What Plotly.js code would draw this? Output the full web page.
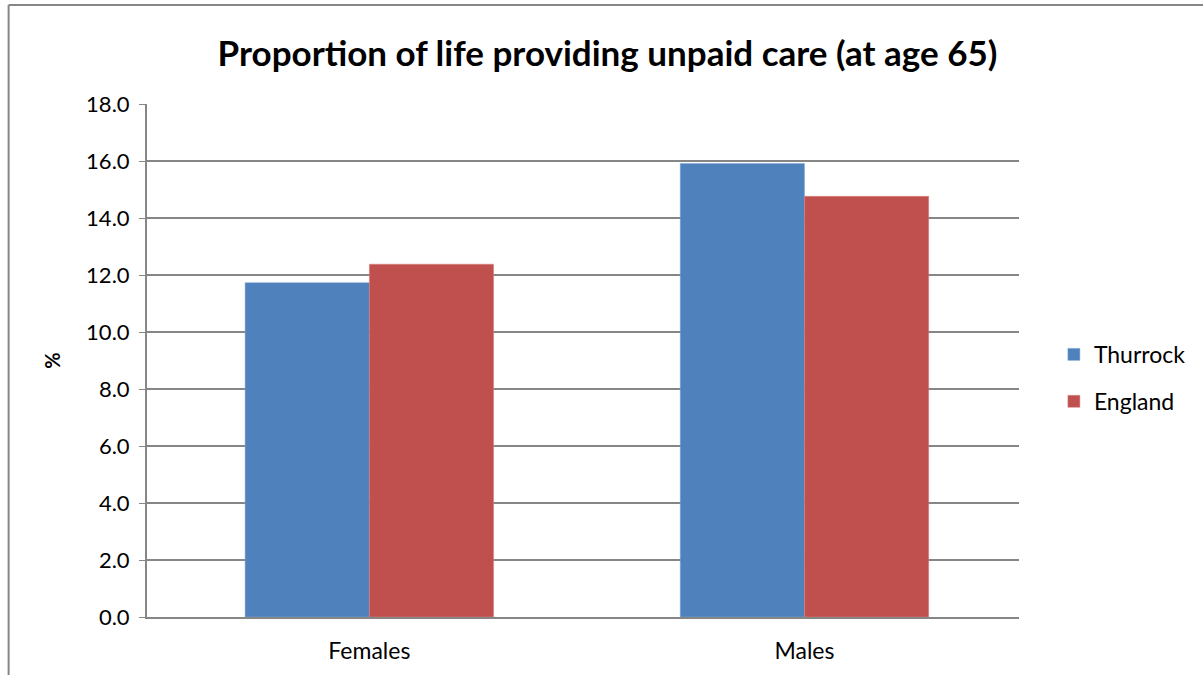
<!DOCTYPE html>
<html>
<head>
<meta charset="utf-8">
<script src="https://cdn.plot.ly/plotly-3.0.1.min.js"></script>
<style>html,body{margin:0;padding:0;background:#fff;}#chart{width:1203px;height:675px;}</style>
</head>
<body>
<div id="chart"></div>
<script>
const categories = ["Females", "Males"];
const seriesNames = ["Thurrock", "England"];
const thurrock = [11.73, 15.91];
const england = [12.38, 14.76];
const yTickVals = [0, 2, 4, 6, 8, 10, 12, 14, 16, 18];
const yTickText = ["0.0", "2.0", "4.0", "6.0", "8.0", "10.0", "12.0", "14.0", "16.0", "18.0"];
const chartTitle = "Proportion of life providing unpaid care (at age 65)";
const yTitle = "%";

const font = "Lato, 'Open Sans', sans-serif";
const traces = [
  {type: "bar", name: seriesNames[0], x: categories, y: thurrock, legendgroup: "g1",
   marker: {color: "#4F81BD", line: {color: "#7FA6D6", width: 0.5}}},
  {type: "bar", name: seriesNames[1], x: categories, y: england, legendgroup: "g2",
   marker: {color: "#C0504D", line: {color: "#D48582", width: 0.5}}}
];
const layout = {
  width: 1203, height: 675,
  margin: {l: 147, r: 180, t: 104, b: 58},
  paper_bgcolor: "#fff", plot_bgcolor: "#fff",
  barmode: "group", bargap: 0.429, bargroupgap: 0,
  font: {family: font, color: "#000", size: 22},
  title: {text: "<b>" + chartTitle + "</b>", x: 0.505, xanchor: "center", y: 0.921, yanchor: "middle",
          font: {family: font, size: 35, color: "#000"}},
  xaxis: {range: [-0.511, 1.493], showline: true, linecolor: "#868686", linewidth: 2, ticks: "", showgrid: false,
          tickfont: {size: 23, family: font}, ticklabelstandoff: 12, fixedrange: true},
  yaxis: {range: [0, 18], tickvals: yTickVals, ticktext: yTickText, showgrid: true,
          gridcolor: "#868686", gridwidth: 1.2, showline: true, linecolor: "#868686", linewidth: 2,
          ticks: "outside", ticklen: 6, tickcolor: "#868686", tickfont: {size: 22, family: font},
          ticklabelstandoff: 5, zeroline: false,
          title: {text: "<b>" + yTitle + "</b>", font: {size: 20, family: font}, standoff: 20}},
  legend: {x: 1.04, y: 0.466, xanchor: "left", yanchor: "middle", font: {size: 23, family: font},
           tracegroupgap: 14, itemwidth: 30, bgcolor: "rgba(0,0,0,0)"},
  showlegend: true,
  shapes: [
    {type: "line", xref: "paper", yref: "paper", x0: -0.1587, x1: 1.3, y0: 1.193, y1: 1.193,
     line: {color: "#868686", width: 2}},
    {type: "line", xref: "paper", yref: "paper", x0: -0.1587, x1: -0.1587, y0: -0.2, y1: 1.193,
     line: {color: "#868686", width: 2}}
  ]
};
Plotly.newPlot("chart", traces, layout, {displayModeBar: false, staticPlot: true});
</script>
</body>
</html>
